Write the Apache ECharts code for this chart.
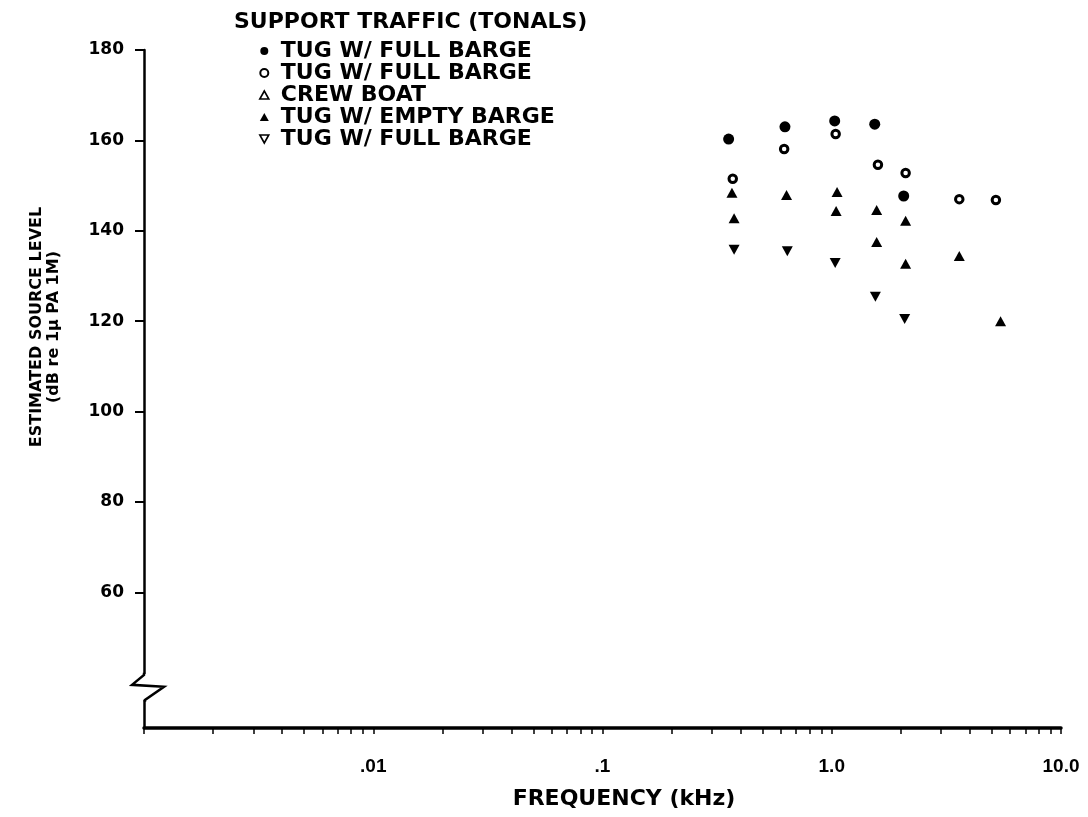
<!DOCTYPE html>
<html>
<head>
<meta charset="utf-8">
<script src="https://cdn.jsdelivr.net/npm/echarts@6/dist/echarts.min.js"></script>
<style>
  html, body { margin: 0; padding: 0; background: #fff; }
  #main { width: 1088px; height: 817px; }
</style>
</head>
<body>
<div id="main"></div>
<script>
// 数据：频率 (kHz) 与估计声源级 (dB)
var fullBargeAX = [0.355, 0.625, 1.03, 1.54, 2.06];
var fullBargeAY = [160.3, 163.0, 164.3, 163.6, 147.7];
var fullBargeBX = [0.37, 0.62, 1.04, 1.59, 2.1, 3.6, 5.2];
var fullBargeBY = [151.5, 158.1, 161.4, 154.6, 152.8, 147.0, 146.8];
var crewBoatX = [0.367, 0.635, 1.055, 1.57, 2.1, 3.6, 5.45];
var crewBoatY = [148.4, 147.9, 148.6, 144.6, 142.2, 134.4, 120.0];
var emptyBargeX = [0.375, 1.045, 1.57, 2.1];
var emptyBargeY = [142.8, 144.4, 137.5, 132.7];
var fullBargeCX = [0.375, 0.64, 1.035, 1.55, 2.08];
var fullBargeCY = [135.8, 135.5, 132.9, 125.4, 120.5];

var legendLabels = {
  full1: 'TUG W/ FULL BARGE',
  full2: 'TUG W/ FULL BARGE',
  crew: 'CREW BOAT',
  empty: 'TUG W/ EMPTY BARGE',
  full3: 'TUG W/ FULL BARGE'
};

var yTickValues = [60, 80, 100, 120, 140, 160, 180];
var xLabelValues = [0.01, 0.1, 1, 10];
var xLabelText = { '0.01': '.01', '0.1': '.1', '1': '1.0', '10': '10.0' };

// 对数轴的次刻度
var xTickValues = [];
[0.001, 0.01, 0.1, 1].forEach(function (d) {
  for (var k = 1; k <= 9; k++) xTickValues.push(+(d * k).toPrecision(3));
});
xTickValues.push(10);

function pairs(xs, ys) {
  return xs.map(function (x, i) { return [x, ys[i]]; });
}

var chart = echarts.init(document.getElementById('main'));
var BOLD = '"DejaVu Sans"';
var downTri = 'path://M0,0L10,0L5,9Z';

option = {
  animation: false,
  backgroundColor: '#fff',
  title: {
    text: 'SUPPORT TRAFFIC (TONALS)',
    left: 229,
    top: 6,
    textStyle: { fontFamily: BOLD, fontWeight: 'bold', fontSize: 22, color: '#000' }
  },
  legend: {
    orient: 'vertical',
    left: 254,
    top: 35,
    itemWidth: 9,
    itemHeight: 8,
    itemGap: 0,
    selectedMode: false,
    formatter: function (name) { return legendLabels[name]; },
    textStyle: { fontFamily: BOLD, fontWeight: 'bold', fontSize: 22, color: '#000', padding: [0, 0, 0, 7] },
    data: [
      { name: 'full1', icon: 'circle', itemStyle: { color: '#000' } },
      { name: 'full2', icon: 'circle', itemStyle: { color: '#fff', borderColor: '#000', borderWidth: 2 } },
      { name: 'crew', icon: 'triangle', itemStyle: { color: '#fff', borderColor: '#000', borderWidth: 1.6 } },
      { name: 'empty', icon: 'triangle', itemStyle: { color: '#000' } },
      { name: 'full3', icon: downTri, itemStyle: { color: '#fff', borderColor: '#000', borderWidth: 1.6 } }
    ]
  },
  grid: { left: 144, right: 27, top: 50, bottom: 89 },
  xAxis: {
    type: 'log',
    min: 0.001,
    max: 10,
    axisLine: { lineStyle: { color: '#000', width: 3.5 } },
    axisTick: { show: true, customValues: xTickValues, length: 6, lineStyle: { color: '#000', width: 1.5 } },
    axisLabel: {
      customValues: xLabelValues,
      formatter: function (v) { return xLabelText[String(+v.toPrecision(3))] || ''; },
      margin: 29,
      fontFamily: 'Liberation Sans',
      fontWeight: 'bold',
      fontSize: 19,
      color: '#000'
    },
    splitLine: { show: false },
    minorTick: { show: false }
  },
  yAxis: {
    type: 'value',
    min: 30,
    max: 180,
    axisLine: { show: true, lineStyle: { color: '#000', width: 2.5 } },
    axisTick: { show: true, customValues: yTickValues, length: 9, lineStyle: { color: '#000', width: 2 } },
    axisLabel: {
      customValues: yTickValues,
      margin: 20,
      fontFamily: BOLD,
      fontWeight: 'bold',
      fontSize: 17,
      color: '#000'
    },
    splitLine: { show: false }
  },
  series: [
    {
      name: 'full1', type: 'scatter', data: pairs(fullBargeAX, fullBargeAY),
      symbol: 'circle', symbolSize: 11, itemStyle: { color: '#000', opacity: 1 }
    },
    {
      name: 'full2', type: 'scatter', data: pairs(fullBargeBX, fullBargeBY),
      symbol: 'circle', symbolSize: 7.5,
      itemStyle: { color: '#fff', borderColor: '#000', borderWidth: 3, opacity: 1 }
    },
    {
      name: 'crew', type: 'scatter', data: pairs(crewBoatX, crewBoatY),
      symbol: 'triangle', symbolSize: [11, 10], itemStyle: { color: '#000', opacity: 1 }
    },
    {
      name: 'empty', type: 'scatter', data: pairs(emptyBargeX, emptyBargeY),
      symbol: 'triangle', symbolSize: [11, 10], itemStyle: { color: '#000', opacity: 1 }
    },
    {
      name: 'full3', type: 'scatter', data: pairs(fullBargeCX, fullBargeCY),
      symbol: downTri, symbolSize: [11, 10], itemStyle: { color: '#000', opacity: 1 }
    }
  ]
};

chart.setOption(option);

// 坐标轴名称与纵轴断裂符号
var brk = chart.convertToPixel({ gridIndex: 0 }, [0.001, 39.1]);
var ax = brk[0], by = brk[1];
chart.setOption({
  graphic: [
    {
      type: 'text', x: 45, y: 327, rotation: Math.PI / 2,
      style: {
        text: 'ESTIMATED SOURCE LEVEL\n(dB re 1\u03bc PA 1M)',
        fontFamily: BOLD, fontWeight: 'bold', fontSize: 16, lineHeight: 17,
        fill: '#000', align: 'center', verticalAlign: 'middle'
      }
    },
    {
      type: 'text', x: 624, y: 799,
      style: {
        text: 'FREQUENCY (kHz)',
        fontFamily: BOLD, fontWeight: 'bold', fontSize: 22,
        fill: '#000', align: 'center', verticalAlign: 'middle'
      }
    },
    {
      type: 'rect', z: 50,
      shape: { x: ax - 4, y: by - 13, width: 8, height: 26 },
      style: { fill: '#fff' }
    },
    {
      type: 'polyline', z: 51,
      shape: { points: [[ax, by - 14], [ax, by - 12], [ax - 12, by - 2], [ax + 20, by], [ax + 1, by + 13], [ax + 1, by + 15]] },
      style: { stroke: '#000', lineWidth: 2.5, fill: null }
    }
  ]
});
</script>
</body>
</html>
